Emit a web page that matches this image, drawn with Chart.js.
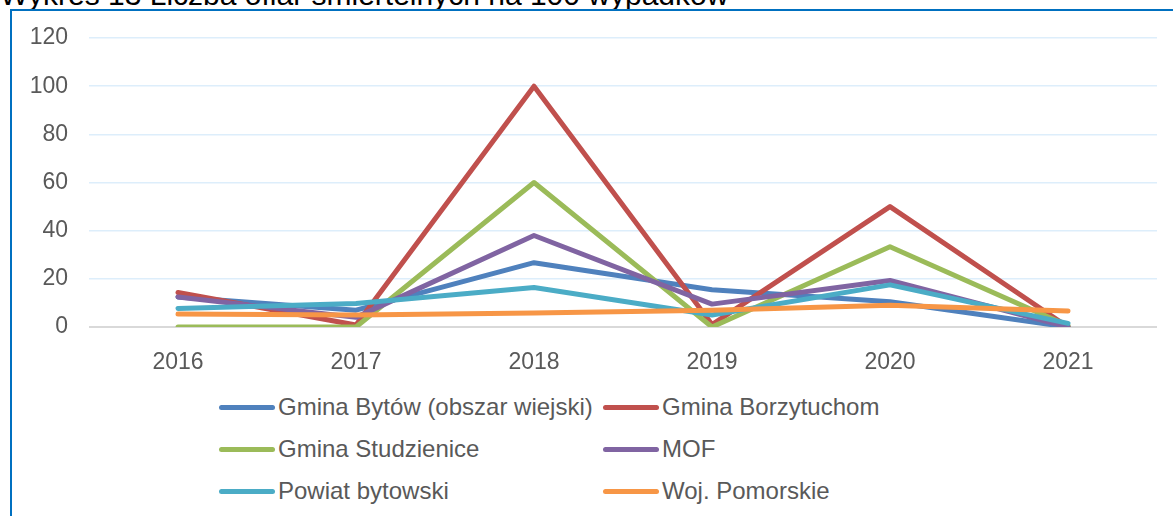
<!DOCTYPE html>
<html>
<head>
<meta charset="utf-8">
<script src="https://cdn.jsdelivr.net/npm/chart.js@4/dist/chart.umd.min.js"></script>
<style>
  html, body { margin: 0; padding: 0; background: #fff; overflow: hidden; }
  body { width: 1173px; height: 516px; position: relative; font-family: "Liberation Sans", Arial, sans-serif; }
  #tytul { position: absolute; left: 0; top: -20px; font-size: 30px; line-height: 30px; color: #000; white-space: nowrap; z-index: 1; }
  #ramka { position: absolute; left: 10px; top: 9px; width: 1200px; height: 600px; border: 2px solid #0070C0; background: #fff; z-index: 2; }
  #wykres { position: absolute; left: 0; top: 0; z-index: 3; }
  #legenda { position: absolute; left: 219px; top: 386px; z-index: 4; display: grid; grid-template-columns: 384px 384px; grid-auto-rows: 42px; }
  .poz { display: flex; align-items: center; font-size: 24px; color: #595959; white-space: nowrap; }
  .kreska { width: 56px; height: 5px; border-radius: 3px; margin-right: 3px; }
</style>
</head>
<body>
<div id="tytul">Wykres 13 Liczba ofiar śmiertelnych na 100 wypadków</div>
<div id="ramka"></div>
<canvas id="wykres" width="1173" height="380"></canvas>
<div id="legenda"></div>
<script>
var lata = ['2016', '2017', '2018', '2019', '2020', '2021'];
var yTicks = [0, 20, 40, 60, 80, 100, 120];

var gminaBytow = [12.5, 7, 26.7, 15.5, 10.5, 0];
var gminaBorzytuchom = [14.3, 0.8, 100, 1, 50, 0];
var gminaStudzienice = [0, 0, 60, 0, 33.3, 0.5];
var mof = [12.5, 4, 38, 9.5, 19.3, 0];
var powiatBytowski = [7.7, 9.8, 16.4, 5, 17.5, 1.5];
var wojPomorskie = [5.4, 5, 5.8, 7, 9, 6.6];

var nazwy = ['Gmina Bytów (obszar wiejski)', 'Gmina Borzytuchom', 'Gmina Studzienice', 'MOF', 'Powiat bytowski', 'Woj. Pomorskie'];
var kolory = ['#4F81BD', '#C0504D', '#9BBB59', '#8064A2', '#4BACC6', '#F79646'];
var serie = [gminaBytow, gminaBorzytuchom, gminaStudzienice, mof, powiatBytowski, wojPomorskie];

var datasets = serie.map(function(dane, i) {
  return {
    label: nazwy[i],
    data: dane,
    borderColor: kolory[i],
    backgroundColor: kolory[i],
    borderWidth: 5,
    pointRadius: 0,
    tension: 0,
    borderCapStyle: 'round',
    borderJoinStyle: 'round',
    // later series on top, like in Excel
    order: serie.length - i
  };
});

var czcionka = { family: '"Liberation Sans", Arial, sans-serif', size: 23 };

new Chart(document.getElementById('wykres').getContext('2d'), {
  type: 'line',
  data: { labels: lata, datasets: datasets },
  options: {
    responsive: false,
    animation: false,
    devicePixelRatio: 1,
    layout: { padding: { top: 38, right: 16, left: 0, bottom: 0 } },
    plugins: { legend: { display: false }, tooltip: { enabled: false } },
    scales: {
      x: {
        offset: true,
        grid: { display: false },
        border: { display: false },
        ticks: { color: '#595959', font: czcionka, padding: 14 },
        afterFit: function(s) { s.height = 53; }
      },
      y: {
        min: yTicks[0],
        max: yTicks[yTicks.length - 1],
        border: { display: false },
        grid: {
          drawTicks: false,
          lineWidth: function(c) { return c.tick && c.tick.value === 0 ? 2 : 1.5; },
          color: function(c) { return c.tick && c.tick.value === 0 ? '#D9D9D9' : '#DDEEFB'; }
        },
        ticks: { stepSize: 20, color: '#595959', font: czcionka, padding: 21 },
        afterFit: function(s) { s.width = 89; }
      }
    }
  }
});

// legenda w dwóch kolumnach
var leg = document.getElementById('legenda');
nazwy.forEach(function(n, i) {
  var d = document.createElement('div');
  d.className = 'poz';
  d.innerHTML = '<span class="kreska" style="background:' + kolory[i] + '"></span>' + n;
  leg.appendChild(d);
});
</script>
</body>
</html>
